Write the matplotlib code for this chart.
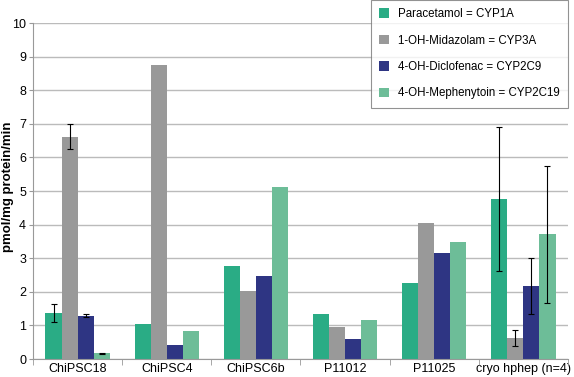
import numpy as np
import matplotlib
matplotlib.use("Agg")
import matplotlib.pyplot as plt

plt.rcParams['font.family'] = ['Liberation Sans', 'DejaVu Sans']

categories = ["ChiPSC18", "ChiPSC4", "ChiPSC6b", "P11012", "P11025", "cryo hphep (n=4)"]
series = ["Paracetamol = CYP1A", "1-OH-Midazolam = CYP3A",
          "4-OH-Diclofenac = CYP2C9", "4-OH-Mephenytoin = CYP2C19"]
colors = ["#2aac85", "#999999", "#2e3583", "#6dbd98"]

paracetamol = [1.37, 1.03, 2.78, 1.34, 2.26, 4.76]
midazolam = [6.62, 8.74, 2.01, 0.95, 4.05, 0.62]
diclofenac = [1.29, 0.42, 2.46, 0.60, 3.14, 2.17]
mephenytoin = [0.17, 0.84, 5.13, 1.17, 3.49, 3.71]

# error bars (None = no bar)
err_paracetamol = [0.28, None, None, None, None, 2.14]
err_midazolam = [0.38, None, None, None, None, 0.23]
err_diclofenac = [0.05, None, None, None, None, 0.84]
err_mephenytoin = [0.02, None, None, None, None, 2.04]

values = [paracetamol, midazolam, diclofenac, mephenytoin]
errors = [err_paracetamol, err_midazolam, err_diclofenac, err_mephenytoin]

fig = plt.figure(figsize=(5.74, 3.77), dpi=100)
ax = fig.add_axes([33/574, 1-359/377, 535/574, 336/377])

x = np.arange(len(categories))
w = 0.18
for i, (vals, errs) in enumerate(zip(values, errors)):
    pos = x + (i - 1.5) * w
    ax.bar(pos, vals, w, color=colors[i], label=series[i], zorder=2)
    ex = [p for p, e in zip(pos, errs) if e is not None]
    ey = [v for v, e in zip(vals, errs) if e is not None]
    ee = [e for e in errs if e is not None]
    ax.errorbar(ex, ey, yerr=ee, fmt="none", ecolor="black", elinewidth=0.8,
                capsize=2.5, capthick=0.8, zorder=3)

ax.set_xlim(-0.5, len(categories) - 0.5)
ax.set_ylim(0, 10)
ax.set_yticks(range(0, 11))
ax.yaxis.grid(True, color="#bbbbbb", linewidth=1, zorder=0)
ax.set_axisbelow(True)

ax.set_xticks(x)
ax.set_xticklabels(categories, fontsize=9)
ax.set_xticks(np.arange(len(categories) + 1) - 0.5, minor=True)
ax.tick_params(axis="x", which="major", length=0, pad=3)
ax.tick_params(axis="x", which="minor", length=4, color="#999999")
ax.tick_params(axis="y", length=3, color="#999999", labelsize=9, pad=2)

for s in ["top", "right"]:
    ax.spines[s].set_visible(False)
for s in ["left", "bottom"]:
    ax.spines[s].set_color("#999999")

ax.set_ylabel("pmol/mg protein/min", fontsize=9.5, fontweight="bold", va="center")
ax.yaxis.set_label_coords(-0.046, 0.512)

leg = ax.legend(loc="upper right", bbox_to_anchor=(1.0, 1.068), borderaxespad=0,
                fontsize=8.3, frameon=True, fancybox=False, edgecolor="#777777",
                handlelength=0.9, handleheight=0.9, labelspacing=1.25,
                borderpad=0.7, handletextpad=0.8)
leg.get_frame().set_linewidth(0.8)

fig.savefig("out.png", dpi=100)
